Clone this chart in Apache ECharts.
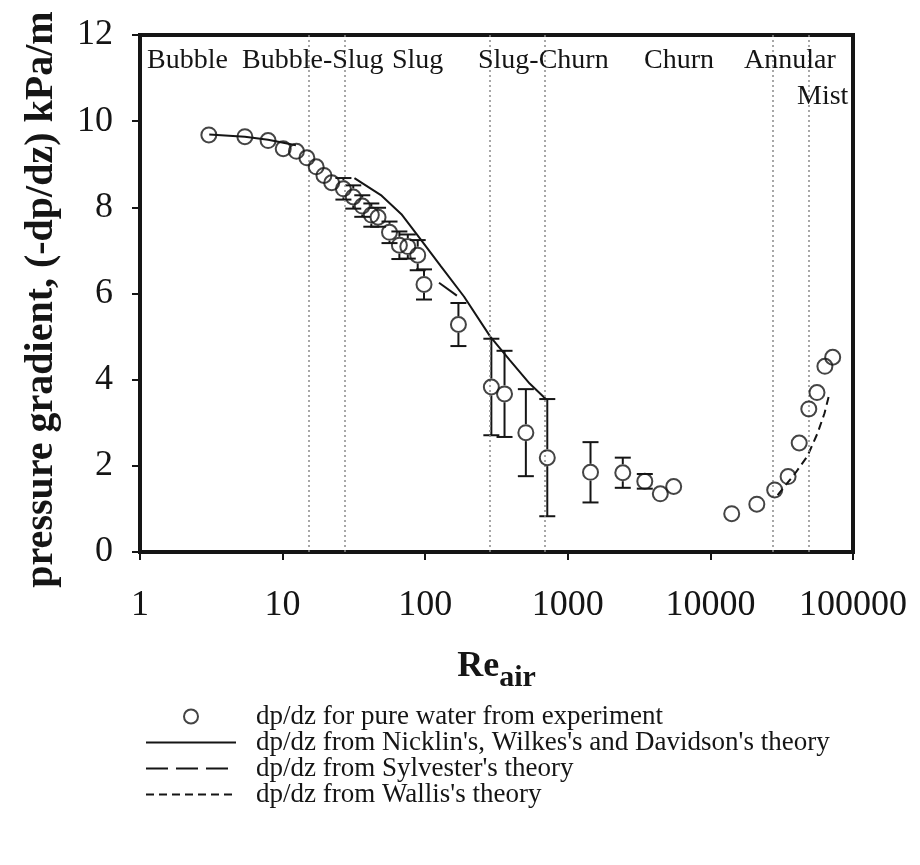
<!DOCTYPE html>
<html><head><meta charset="utf-8">
<script src="https://cdn.jsdelivr.net/npm/echarts@6/dist/echarts.min.js"></script>
<style>html,body{margin:0;padding:0;background:#fff}#c{width:920px;height:865px}</style>
</head><body><div id="c"></div>
<script>
// ---- data ----
const reExp = [3.04, 5.44, 7.91, 10.1, 12.5, 14.8, 17.2, 19.5, 22.1, 26.7, 31.3, 36.2, 41.9, 46.7, 56.2, 65.9, 75.5, 88.6, 98.1, 171, 291, 360, 508, 718, 1443, 2430, 3467, 4454, 5528, 14110, 21160, 28240, 35060, 41950, 48980, 55900, 63520, 72050];
const dpExp = [9.68, 9.64, 9.55, 9.36, 9.30, 9.15, 8.94, 8.74, 8.57, 8.43, 8.24, 8.03, 7.82, 7.77, 7.42, 7.12, 7.09, 6.89, 6.21, 5.28, 3.83, 3.67, 2.77, 2.19, 1.85, 1.84, 1.64, 1.35, 1.52, 0.89, 1.11, 1.44, 1.75, 2.53, 3.32, 3.70, 4.31, 4.52];
const errExp = [0, 0, 0, 0, 0, 0, 0, 0, 0, 0.25, 0.27, 0.25, 0.27, 0.22, 0.25, 0.32, 0.28, 0.35, 0.35, 0.50, 1.12, 1.00, 1.01, 1.36, 0.70, 0.35, 0.17, 0, 0, 0, 0, 0, 0, 0, 0, 0, 0, 0];
const nwdRe = [3.06, 5.44, 7.91, 12.4, 20, 31.9, 49.5, 68.1, 91.2, 129, 187, 286, 393, 540, 707];
const nwdDp = [9.69, 9.64, 9.57, 9.44, null, 8.68, 8.27, 7.84, 7.29, 6.63, 5.93, 5.00, 4.45, 3.91, 3.54];
const sylRe = [125, 177];
const sylDp = [6.25, 5.89];
const walRe = [29600, 39580, 47810, 56460, 63110, 68640];
const walDp = [1.32, 1.84, 2.22, 2.76, 3.22, 3.70];
const regimeBounds = [15.2, 27.4, 283, 688, 27560, 49310];
const regimeNames = ['Bubble', 'Bubble-Slug', 'Slug', 'Slug-Churn', 'Churn', 'Annular', 'Mist'];
const xTickLabels = ['1', '10', '100', '1000', '10000', '100000'];
const yTickLabels = ['0', '2', '4', '6', '8', '10', '12'];
const seriesNames = [
  'dp/dz for pure water from experiment',
  "dp/dz from Nicklin's, Wilkes's and Davidson's theory",
  "dp/dz from Sylvester's theory",
  "dp/dz from Wallis's theory"
];
const yTitle = 'pressure gradient, (-dp/dz) kPa/m';

// ---- layout / style ----
const FONT = '"Liberation Serif", "Times New Roman", serif';
const INK = '#151515';
const regimeLabelPos = [[147, 61], [242, 61], [392, 61], [478, 61], [644, 61], [744, 61], [797, 97]];

const pairs = (xs, ys) => xs.map((x, i) => [x, ys[i] == null ? '-' : ys[i]]);

const chart = echarts.init(document.getElementById('c'), null, {renderer: 'canvas'});
const R = 8.5, CAP = 8;
const option = {
  animation: false,
  backgroundColor: '#fff',
  grid: {left: 140, right: 67, top: 35, bottom: 313, outerBoundsMode: 'none', containLabel: false,
    show: true, borderColor: INK, borderWidth: 4, backgroundColor: 'transparent'},
  xAxis: {
    type: 'log', logBase: 10, min: 1, max: 100000,
    axisLine: {show: true, onZero: false, lineStyle: {color: INK, width: 4}},
    axisTick: {show: true, length: 8, lineStyle: {color: INK, width: 2}},
    minorTick: {show: false},
    splitLine: {show: false},
    axisLabel: {fontFamily: FONT, fontSize: 36, color: INK, margin: 36,
      formatter: v => xTickLabels[Math.round(Math.log10(v))]},
    name: '{a|Re}{b|air}', nameLocation: 'middle', nameGap: 97,
    nameTextStyle: {rich: {
      a: {fontFamily: FONT, fontWeight: 'bold', fontSize: 36, lineHeight: 36, color: INK, verticalAlign: 'top'},
      b: {fontFamily: FONT, fontWeight: 'bold', fontSize: 30, lineHeight: 30, color: INK, verticalAlign: 'top', padding: [14, 0, 0, 0]}
    }}
  },
  yAxis: {
    type: 'value', min: 0, max: 12, interval: 2,
    axisLine: {show: true, lineStyle: {color: INK, width: 4}},
    axisTick: {show: true, length: 8, lineStyle: {color: INK, width: 2}},
    splitLine: {show: false},
    axisLabel: {fontFamily: FONT, fontSize: 36, color: INK, margin: 27,
      formatter: v => yTickLabels[Math.round(v / 2)]},
    name: yTitle, nameLocation: 'middle', nameGap: 78,
    nameTextStyle: {fontFamily: FONT, fontWeight: 'bold', fontSize: 40, color: INK, padding: [0, 12, 0, 0]}
  },
  legend: {
    data: seriesNames.map((n, i) => i === 0 ? {name: n} : {name: n, itemStyle: {opacity: 0}}),
    orient: 'vertical', left: 140, top: 698,
    itemWidth: 90, itemHeight: 14, itemGap: -1, selectedMode: false,
    textStyle: {fontFamily: FONT, fontSize: 27, color: INK, padding: [0, 0, 0, 15]}
  },
  graphic: regimeNames.map((t, i) => ({
    type: 'text', left: regimeLabelPos[i][0], top: regimeLabelPos[i][1] - 14, z: 10,
    style: {text: t, font: '28px ' + FONT, fill: INK}
  })),
  series: [
    {
      name: seriesNames[0], type: 'scatter', data: pairs(reExp, dpExp), z: 5,
      symbol: 'circle', symbolSize: 15,
      itemStyle: {color: 'rgba(255,255,255,0)', borderColor: INK, borderWidth: 2},
      markLine: {
        silent: true, symbol: ['none', 'none'], label: {show: false},
        lineStyle: {color: '#8a8a8a', width: 1.5, type: [2, 3]},
        data: regimeBounds.map(v => ({xAxis: v}))
      }
    },
    {
      name: seriesNames[1], type: 'line', data: pairs(nwdRe, nwdDp), symbol: 'none', showSymbol: false, connectNulls: false,
      lineStyle: {color: INK, width: 2, type: 'solid'}, itemStyle: {color: INK}
    },
    {
      name: seriesNames[2], type: 'line', data: pairs(sylRe, sylDp), symbol: 'none', showSymbol: false,
      lineStyle: {color: INK, width: 2, type: [22, 8]}, itemStyle: {color: INK}
    },
    {
      name: seriesNames[3], type: 'line', data: pairs(walRe, walDp), symbol: 'none', showSymbol: false,
      lineStyle: {color: INK, width: 2, type: [8, 5]}, itemStyle: {color: INK}
    },
    {
      name: 'errorbars', type: 'custom', z: 4,
      data: reExp.map((x, i) => [x, dpExp[i], errExp[i]]).filter(d => d[2] > 0),
      encode: {x: 0, y: 1},
      renderItem: (params, api) => {
        const x = api.value(0), y = api.value(1), e = api.value(2);
        const c = api.coord([x, y]);
        const t = api.coord([x, y + e]);
        const b = api.coord([x, y - e]);
        const st = {stroke: INK, lineWidth: 2, fill: null};
        const ch = [
          {type: 'line', shape: {x1: c[0] - CAP, y1: t[1], x2: c[0] + CAP, y2: t[1]}, style: st},
          {type: 'line', shape: {x1: c[0] - CAP, y1: b[1], x2: c[0] + CAP, y2: b[1]}, style: st}
        ];
        if (t[1] < c[1] - R) ch.push({type: 'line', shape: {x1: c[0], y1: t[1], x2: c[0], y2: c[1] - R}, style: st});
        if (b[1] > c[1] + R) ch.push({type: 'line', shape: {x1: c[0], y1: c[1] + R, x2: c[0], y2: b[1]}, style: st});
        return {type: 'group', children: ch};
      }
    }
  ]
};
chart.setOption(option);
</script></body></html>
